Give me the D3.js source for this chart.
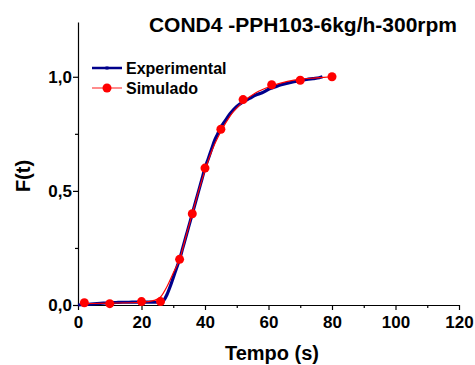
<!DOCTYPE html>
<html><head><meta charset="utf-8">
<script src="https://cdn.jsdelivr.net/npm/d3@7"></script>
<style>
html,body{margin:0;padding:0;background:#fff;}
svg{display:block;font-family:Arial,"Liberation Sans",sans-serif;}
</style></head>
<body>
<svg id="c" width="475" height="365"></svg>
<script>
const titleText = "COND4 -PPH103-6kg/h-300rpm";
const xLabel = "Tempo (s)";
const yLabel = "F(t)";
const seriesNames = ["Experimental", "Simulado"];
const xTicks = [0, 20, 40, 60, 80, 100, 120];
const yTicks = [0, 0.5, 1.0];
const yTickLabels = ["0,0", "0,5", "1,0"];

// Experimental (dense curve)
const expT = [0,2,4,6,8,10,12,14,16,18,20,22,24,26,27,28,29,30,31,32,33,34,35,36,37,38,39,40,41,42,43,44,45,46,48,50,52,54,56,58,60,62,64,66,68,70,72,74,76,77];
const expF = [0,0.002,0.004,0.006,0.008,0.01,0.011,0.012,0.012,0.013,0.013,0.013,0.012,0.012,0.02,0.045,0.08,0.12,0.16,0.2,0.25,0.3,0.35,0.4,0.45,0.5,0.55,0.6,0.64,0.68,0.72,0.75,0.78,0.8,0.84,0.87,0.89,0.905,0.92,0.93,0.945,0.955,0.965,0.972,0.978,0.983,0.988,0.992,0.996,1.0];

// Simulated curve
const simCurveT = [2,10,20,24,26,28,30,32,34,36,38,40,42,45,48,52,56,61,66,70,75,80];
const simCurveF = [0.006,0.008,0.012,0.02,0.035,0.08,0.14,0.2,0.3,0.4,0.5,0.59,0.67,0.76,0.83,0.89,0.93,0.96,0.98,0.99,0.995,1.0];
// Simulated markers
const simT = [2,10,20,26,32,36,40,45,52,61,70,80];
const simF = [0.01,0.006,0.015,0.015,0.2,0.4,0.6,0.77,0.9,0.965,0.985,1.0];

const svg = d3.select("#c");
const x = d3.scaleLinear().domain([0,120]).range([78,459]);
const y = d3.scaleLinear().domain([0,1.24]).range([305,22]);

const blue = "#00008b", red = "#ff0000";

// axes
const xAxis = d3.axisBottom(x).tickValues(xTicks).tickFormat(d3.format("d")).tickSize(5).tickSizeOuter(0);
const gx = svg.append("g").attr("transform","translate(0,305)").call(xAxis);
const xMinor = d3.axisBottom(x).tickValues([10,30,50,70,90,110]).tickFormat("").tickSize(3).tickSizeOuter(0);
svg.append("g").attr("transform","translate(0,305)").call(xMinor).select(".domain").remove();
const yAxis = d3.axisLeft(y).tickValues(yTicks).tickFormat((d,i)=>yTickLabels[i]).tickSize(5).tickSizeOuter(0);
const gy = svg.append("g").attr("transform","translate(78,0)").call(yAxis);
const yMinor = d3.axisLeft(y).tickValues([0.25,0.75]).tickFormat("").tickSize(3).tickSizeOuter(0);
svg.append("g").attr("transform","translate(78,0)").call(yMinor).select(".domain").remove();

svg.selectAll(".domain").attr("stroke","#000").attr("stroke-width",1.2);
svg.selectAll(".tick line").attr("stroke","#000").attr("stroke-width",1.2);
gx.selectAll("text").attr("font-size",17).attr("font-weight","bold").attr("fill","#000").attr("dy","0.9em");
gy.selectAll("text").attr("font-size",17).attr("font-weight","bold").attr("fill","#000").attr("dy","0.35em").attr("x",-6);

// lines
const expData = expT.map((t,i)=>[t,expF[i]]);
const simCurve = simCurveT.map((t,i)=>[t,simCurveF[i]]);
const simPts = simT.map((t,i)=>[t,simF[i]]);
const line = d3.line().x(d=>x(d[0])).y(d=>y(d[1])).curve(d3.curveMonotoneX);

svg.append("path").attr("d",line(expData)).attr("fill","none").attr("stroke",blue).attr("stroke-width",3.2);
svg.append("path").attr("d",line(simCurve)).attr("fill","none").attr("stroke",red).attr("stroke-width",1.2);
svg.selectAll("circle.sim").data(simPts).enter().append("circle").attr("class","sim")
  .attr("cx",d=>x(d[0])).attr("cy",d=>y(d[1])).attr("r",4.5).attr("fill",red);

// title
svg.append("text").attr("x",303).attr("y",32).attr("text-anchor","middle")
  .attr("font-size",21).attr("font-weight","bold").text(titleText);
// axis labels
svg.append("text").attr("x",272).attr("y",360).attr("text-anchor","middle")
  .attr("font-size",20).attr("font-weight","bold").text(xLabel);
svg.append("text").attr("transform","translate(30,176) rotate(-90)").attr("text-anchor","middle")
  .attr("font-size",20).attr("font-weight","bold").text(yLabel);

// legend
const leg = svg.append("g");
leg.append("line").attr("x1",92).attr("x2",122).attr("y1",68).attr("y2",68).attr("stroke",blue).attr("stroke-width",2.5);
leg.append("rect").attr("x",105.5).attr("y",66.5).attr("width",3).attr("height",3).attr("fill",blue);
leg.append("text").attr("x",126).attr("y",73.5).attr("font-size",16).attr("font-weight","bold").text(seriesNames[0]);
leg.append("line").attr("x1",92).attr("x2",122).attr("y1",88).attr("y2",88).attr("stroke","#ff6666").attr("stroke-width",1.5);
leg.append("circle").attr("cx",107).attr("cy",88).attr("r",4.5).attr("fill",red);
leg.append("text").attr("x",126).attr("y",93.5).attr("font-size",16).attr("font-weight","bold").text(seriesNames[1]);
</script>
</body></html>
